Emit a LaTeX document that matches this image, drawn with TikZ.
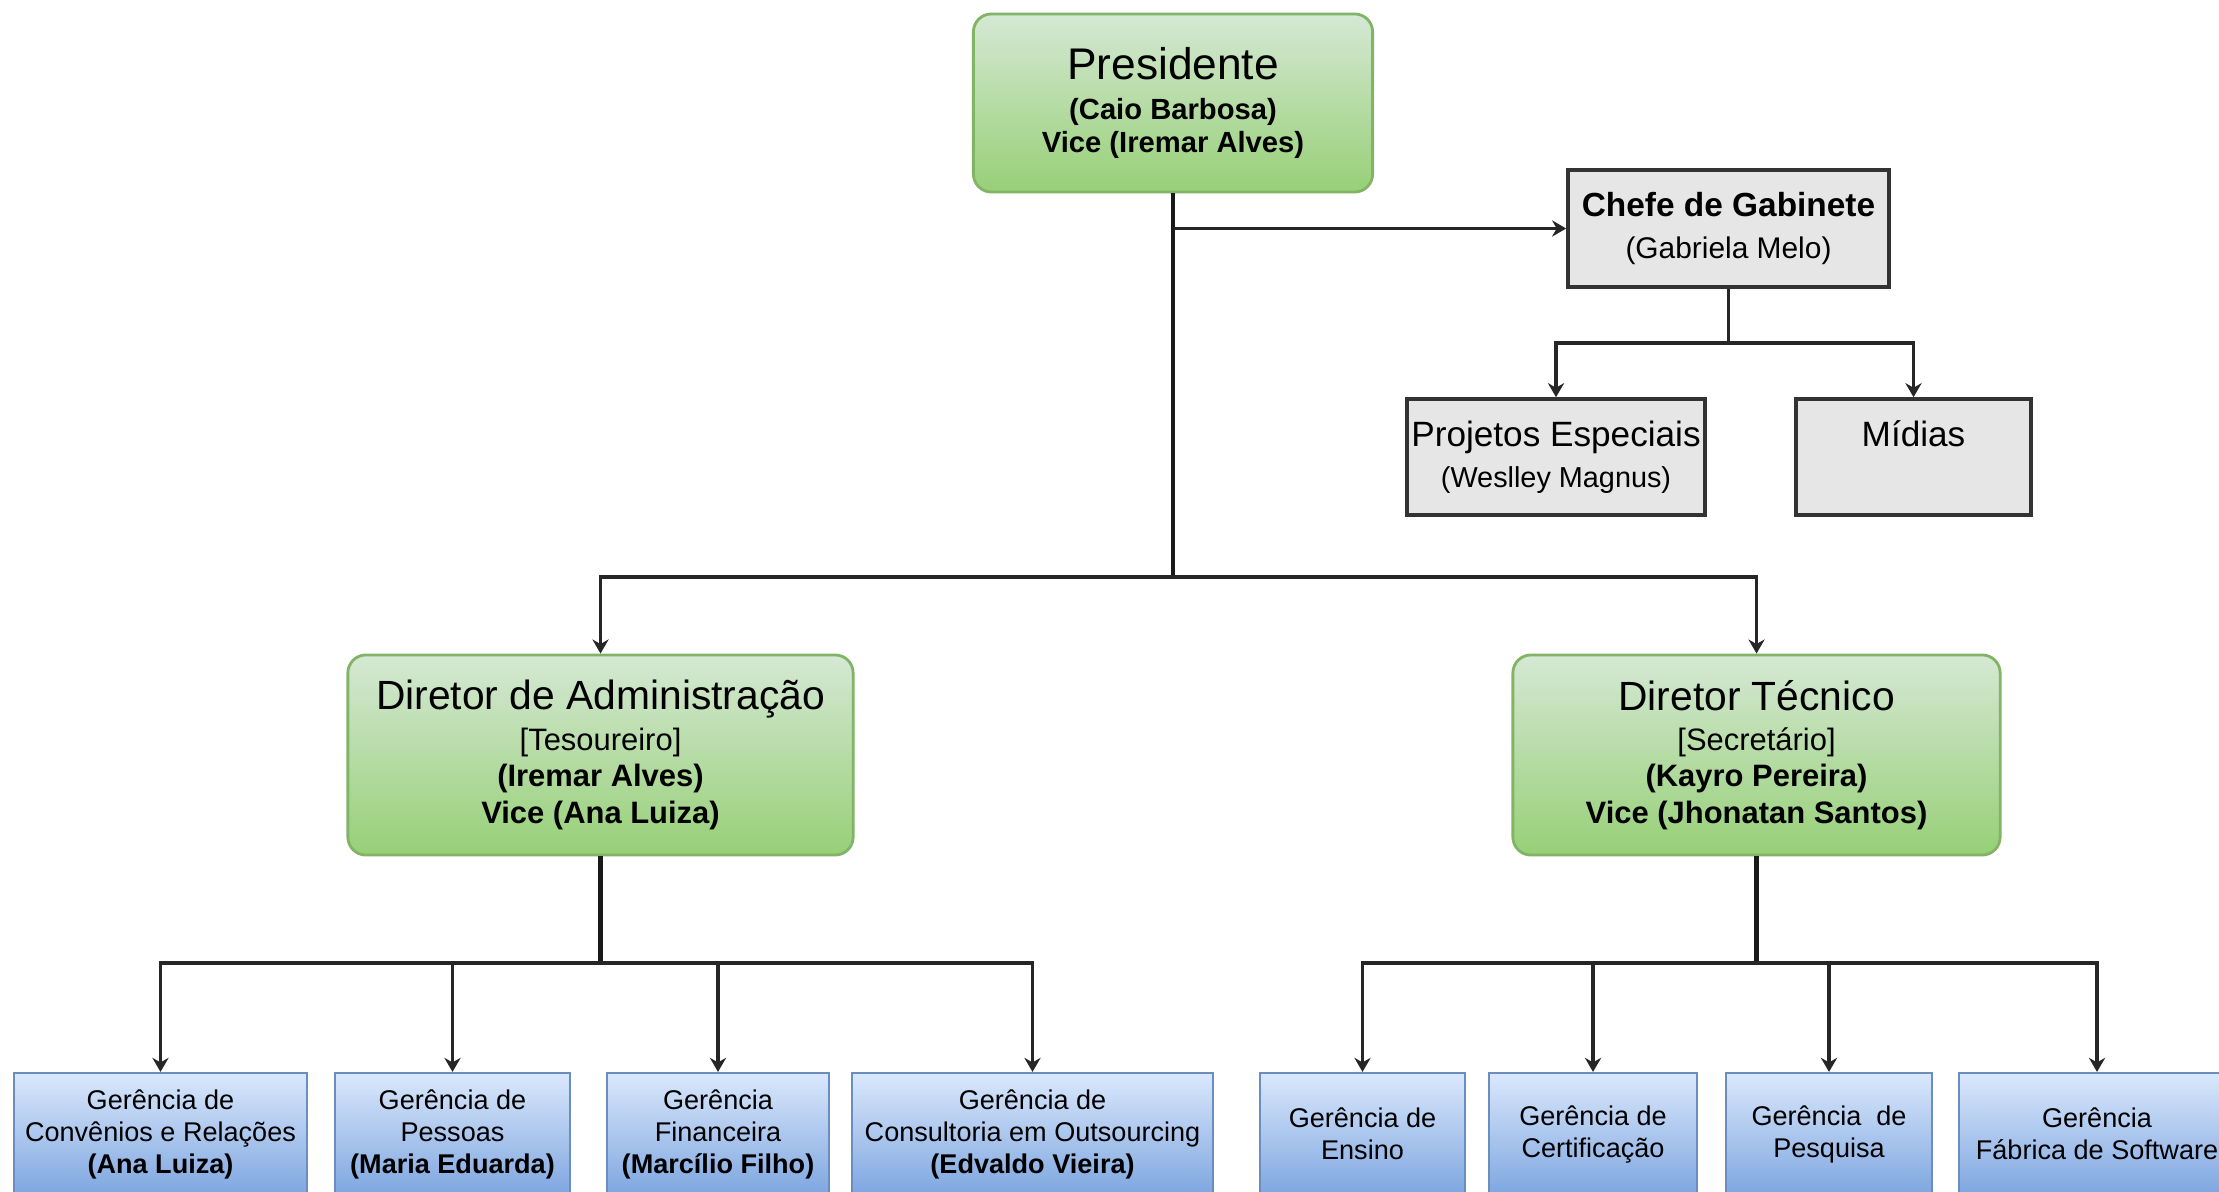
\documentclass[tikz,border=0pt]{standalone}
\usepackage{fontspec}
\setmainfont{Liberation Sans}
\usetikzlibrary{arrows.meta}

\definecolor{grtop}{HTML}{D5E8D4}
\definecolor{grbot}{HTML}{97D077}
\definecolor{grline}{HTML}{82B366}
\definecolor{bltop}{HTML}{DAE8FC}
\definecolor{blbot}{HTML}{7EA6E0}
\definecolor{blline}{HTML}{6C8EBF}
\definecolor{gyfill}{HTML}{E6E6E6}

\begin{document}
\begin{tikzpicture}[x=0.01cm, y=-0.01cm,
  dirbox/.style={draw=grline, line width=0.8pt, rounded corners=0.18cm, top color=grtop, bottom color=grbot, align=center, inner sep=0pt},
  gerbox/.style={draw=blline, line width=0.6pt, top color=bltop, bottom color=blbot, align=center, inner sep=0pt, minimum height=1.22cm, font=\fontsize{7.7}{9.1}\selectfont},
  gabbox/.style={draw=black!80, line width=1pt, fill=gyfill, align=center, inner sep=0pt, minimum height=1.16cm},
  link/.style={draw=black!85, line width=0.9pt},
  tip/.style={link, -{Stealth[length=4pt,width=4.6pt,inset=1.3pt]}},
  trunk/.style={draw=black!90, line width=1.5pt}]
\useasboundingbox (0,0) rectangle (2219,1191);
\clip (0,0) rectangle (2219,1191);

\node[dirbox, minimum width=3.99cm, minimum height=1.78cm, font=\fontsize{8.3}{9.4}\selectfont] (pres) at (1173,103)
  {{\fontsize{12.6}{12.6}\selectfont Presidente}\\[1.7pt] \textbf{(Caio Barbosa)}\\ \textbf{Vice (Iremar Alves)}};

\node[gabbox, minimum width=3.21cm, minimum height=1.17cm, font=\fontsize{8.5}{12.2}\selectfont] (chefe) at (1728.5,228.5)
  {{\fontsize{9.5}{9.5}\selectfont\bfseries Chefe de Gabinete}\\ (Gabriela Melo)};
\node[gabbox, minimum width=2.98cm, font=\fontsize{8.2}{11.7}\selectfont] (proj) at (1556,457)
  {{\fontsize{10}{10}\selectfont Projetos Especiais}\\ (Weslley Magnus)};
\node[gabbox, minimum width=2.35cm, font=\fontsize{8.2}{11.7}\selectfont] (midias) at (1913.5,457)
  {{\fontsize{10}{10}\selectfont Mídias}\\ \phantom{(Weslley)}};

\node[dirbox, minimum width=5.05cm, minimum height=2cm, font=\fontsize{8.8}{10.4}\selectfont] (dadm) at (600.5,755)
  {{\fontsize{11.6}{11.6}\selectfont Diretor de Administração}\\[1pt] {[Tesoureiro]}\\ \textbf{(Iremar Alves)}\\ \textbf{Vice (Ana Luiza)}};
\node[dirbox, minimum width=4.87cm, minimum height=2cm, font=\fontsize{8.8}{10.4}\selectfont] (dtec) at (1756.5,755)
  {{\fontsize{11.6}{11.6}\selectfont Diretor Técnico}\\[1pt] {[Secretário]}\\ \textbf{(Kayro Pereira)}\\ \textbf{Vice (Jhonatan Santos)}};

\node[gerbox, minimum width=2.93cm] (ga1) at (160.5,1134) {Gerência de\\Convênios e Relações\\\textbf{(Ana Luiza)}};
\node[gerbox, minimum width=2.35cm] (ga2) at (452.5,1134) {Gerência de\\Pessoas\\\textbf{(Maria Eduarda)}};
\node[gerbox, minimum width=2.22cm] (ga3) at (718,1134) {Gerência\\Financeira\\\textbf{(Marcílio Filho)}};
\node[gerbox, minimum width=3.61cm] (ga4) at (1032.5,1134) {Gerência de\\Consultoria em Outsourcing\\\textbf{(Edvaldo Vieira)}};
\node[gerbox, minimum width=2.05cm] (gt1) at (1362.5,1134) {Gerência de\\Ensino};
\node[gerbox, minimum width=2.08cm] (gt2) at (1593,1134) {Gerência de\\Certificação};
\node[gerbox, minimum width=2.06cm] (gt3) at (1829,1134) {Gerência~ de\\Pesquisa};
\node[gerbox, minimum width=2.76cm] (gt4) at (2097,1134) {Gerência\\Fábrica de Software};

\coordinate (hubP) at (pres.south |- 0,577);
\coordinate (hubG) at (pres.south |- chefe.west);
\coordinate (hubC) at (chefe.south |- 0,343);
\coordinate (hubA) at (dadm.south |- 0,963);
\coordinate (hubT) at (dtec.south |- 0,963);

\draw[trunk, line width=1.1pt] (pres.south) -- (hubP);
\draw[tip] (hubG) -- (chefe.west);
\draw[tip] (hubP) -| (dadm.north);
\draw[tip] (hubP) -| (dtec.north);
\draw[link] (chefe.south) -- (hubC);
\foreach \g in {proj,midias}
   \draw[tip] (hubC) -| (\g.north);
\draw[trunk] (dadm.south) -- (hubA);
\foreach \g in {ga1,ga2,ga3,ga4}
   \draw[tip] (hubA) -| (\g.north);
\draw[trunk] (dtec.south) -- (hubT);
\foreach \g in {gt1,gt2,gt3,gt4}
   \draw[tip] (hubT) -| (\g.north);
\end{tikzpicture}
\end{document}
